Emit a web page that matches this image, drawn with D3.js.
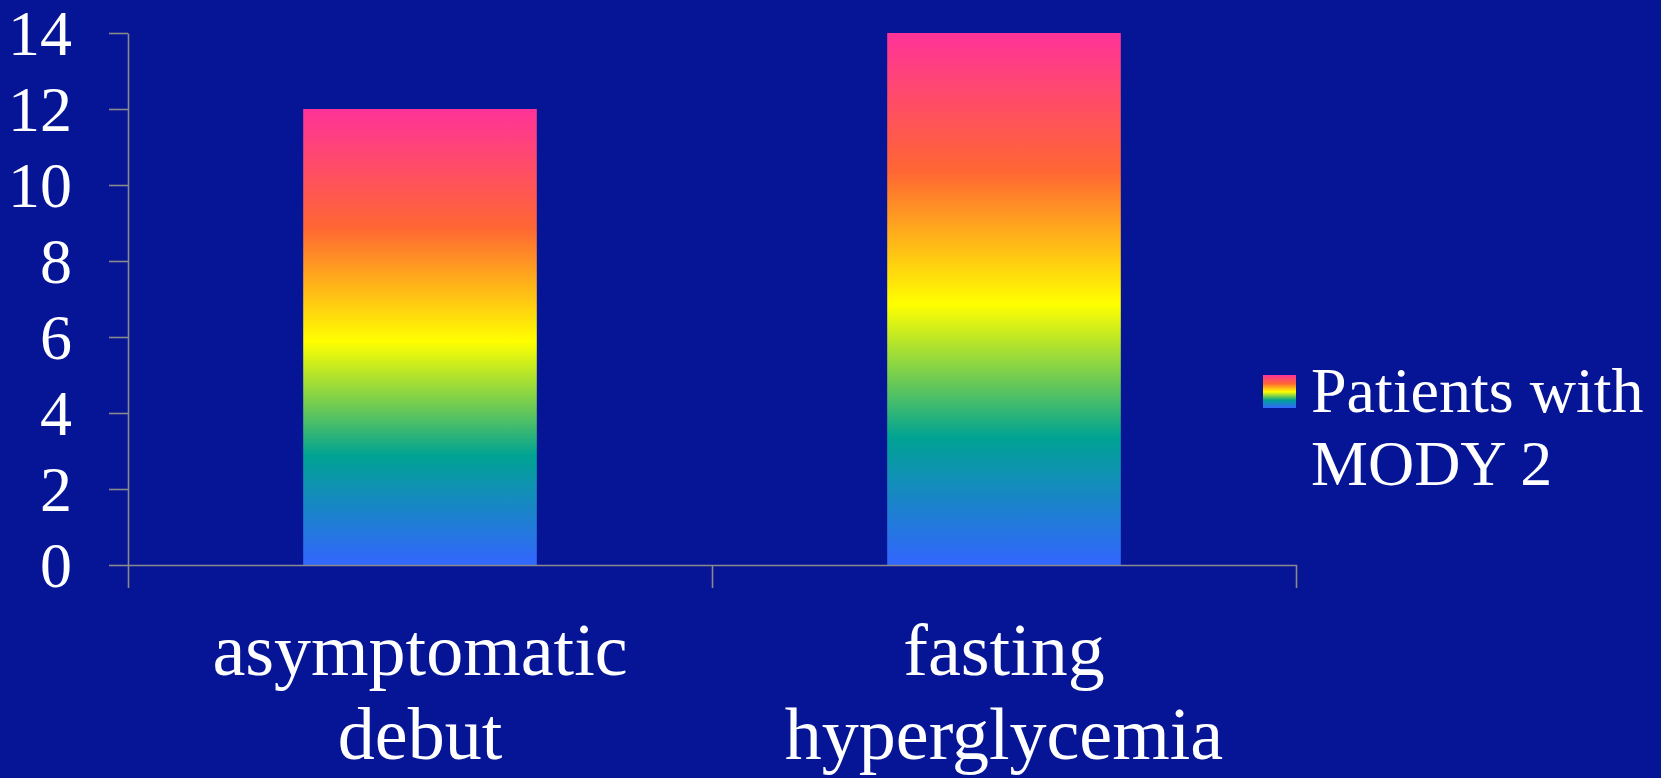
<!DOCTYPE html>
<html>
<head>
<meta charset="utf-8">
<script src="https://cdn.jsdelivr.net/npm/d3@7"></script>
<style>
  body { margin: 0; background: #061595; }
  svg { display: block; }
</style>
</head>
<body>
<svg></svg>
<script>
const categories = [['asymptomatic', 'debut'], ['fasting', 'hyperglycemia']]
const values = [12, 14]
const yTicks = [0, 2, 4, 6, 8, 10, 12, 14]
const seriesName = ['Patients with', 'MODY 2']
const gradientStops = [
  [0, '#ff3399'],
  [0.26, '#ff6633'],
  [0.51, '#ffff00'],
  [0.76, '#00a393'],
  [1, '#3366ff']
]

const drawChart = () => {
  const width = 1661
  const height = 778
  const left = 128
  const right = 1296
  const top = 33
  const bottom = 565
  const font = '"Liberation Serif", "Times New Roman", serif'
  const axisColor = '#8a8a8a'

  const svg = d3.select('svg')
                .attr('width', width)
                .attr('height', height)

  svg.append('rect')
     .attr('width', width)
     .attr('height', height)
     .attr('fill', '#061595')

  const grad = svg.append('defs')
                  .append('linearGradient')
                  .attr('id', 'rainbow')
                  .attr('x1', 0).attr('y1', 0)
                  .attr('x2', 0).attr('y2', 1)
  grad.selectAll('stop')
      .data(gradientStops)
      .join('stop')
      .attr('offset', d => d[0])
      .attr('stop-color', d => d[1])

  const keys = categories.map(c => c.join(' '))
  const xScale = d3.scaleBand()
                   .domain(keys)
                   .range([left, right])
                   .padding(0)
  const yScale = d3.scaleLinear()
                   .domain([0, 14])
                   .range([bottom, top])

  // bars
  const barFrac = 0.4
  svg.append('g')
     .selectAll('rect.bar')
     .data(values)
     .join('rect')
     .classed('bar', true)
     .attr('x', (d, i) => xScale(keys[i]) + xScale.bandwidth() * (1 - barFrac) / 2)
     .attr('width', xScale.bandwidth() * barFrac)
     .attr('y', d => yScale(d))
     .attr('height', d => yScale(0) - yScale(d))
     .attr('fill', 'url(#rainbow)')

  // y axis
  const yAxis = d3.axisLeft(yScale)
                  .tickValues(yTicks)
                  .tickSize(19)
                  .tickSizeOuter(0)
                  .tickPadding(37)
  const yG = svg.append('g')
                .attr('transform', `translate(${left}, 0)`)
                .call(yAxis)
  yG.select('.domain').attr('stroke', axisColor).attr('stroke-width', 1.6)
  yG.selectAll('.tick line').attr('stroke', axisColor).attr('stroke-width', 1.6)
  yG.selectAll('.tick text')
    .attr('fill', '#ffffff')
    .style('font-family', font)
    .style('font-size', '64px')
    .attr('dy', '0.33em')

  // x axis: line plus ticks between categories
  const xAxis = d3.axisBottom(xScale)
                  .tickSize(0)
                  .tickSizeOuter(23)
                  .tickFormat('')
  const xG = svg.append('g')
                .attr('transform', `translate(0, ${bottom})`)
                .call(xAxis)
  xG.select('.domain').attr('stroke', axisColor).attr('stroke-width', 1.6)
  xG.selectAll('.tick').remove()
  xG.selectAll('line.sep')
    .data(keys.slice(1))
    .join('line')
    .classed('sep', true)
    .attr('x1', d => xScale(d) + 0.5)
    .attr('x2', d => xScale(d) + 0.5)
    .attr('y1', 0)
    .attr('y2', 23)
    .attr('stroke', axisColor)
    .attr('stroke-width', 1.6)

  const labels = svg.append('g')
                    .selectAll('text')
                    .data(categories)
                    .join('text')
                    .attr('text-anchor', 'middle')
                    .attr('fill', '#ffffff')
                    .style('font-family', font)
                    .style('font-size', '74px')
  labels.selectAll('tspan')
        .data((d, i) => d.map(t => ({ t, k: keys[i] })))
        .join('tspan')
        .attr('x', d => xScale(d.k) + xScale.bandwidth() / 2)
        .attr('y', (d, j) => 675 + j * 84)
        .text(d => d.t)

  // legend
  const legend = svg.append('g')
  legend.append('rect')
        .attr('x', 1263)
        .attr('y', 375)
        .attr('width', 33)
        .attr('height', 33)
        .attr('fill', 'url(#rainbow)')
  legend.append('text')
        .attr('fill', '#ffffff')
        .style('font-family', font)
        .style('font-size', '64px')
        .selectAll('tspan')
        .data(seriesName)
        .join('tspan')
        .attr('x', 1311)
        .attr('y', (d, i) => 412 + i * 73)
        .text(d => d)
}

drawChart()
</script>
</body>
</html>
